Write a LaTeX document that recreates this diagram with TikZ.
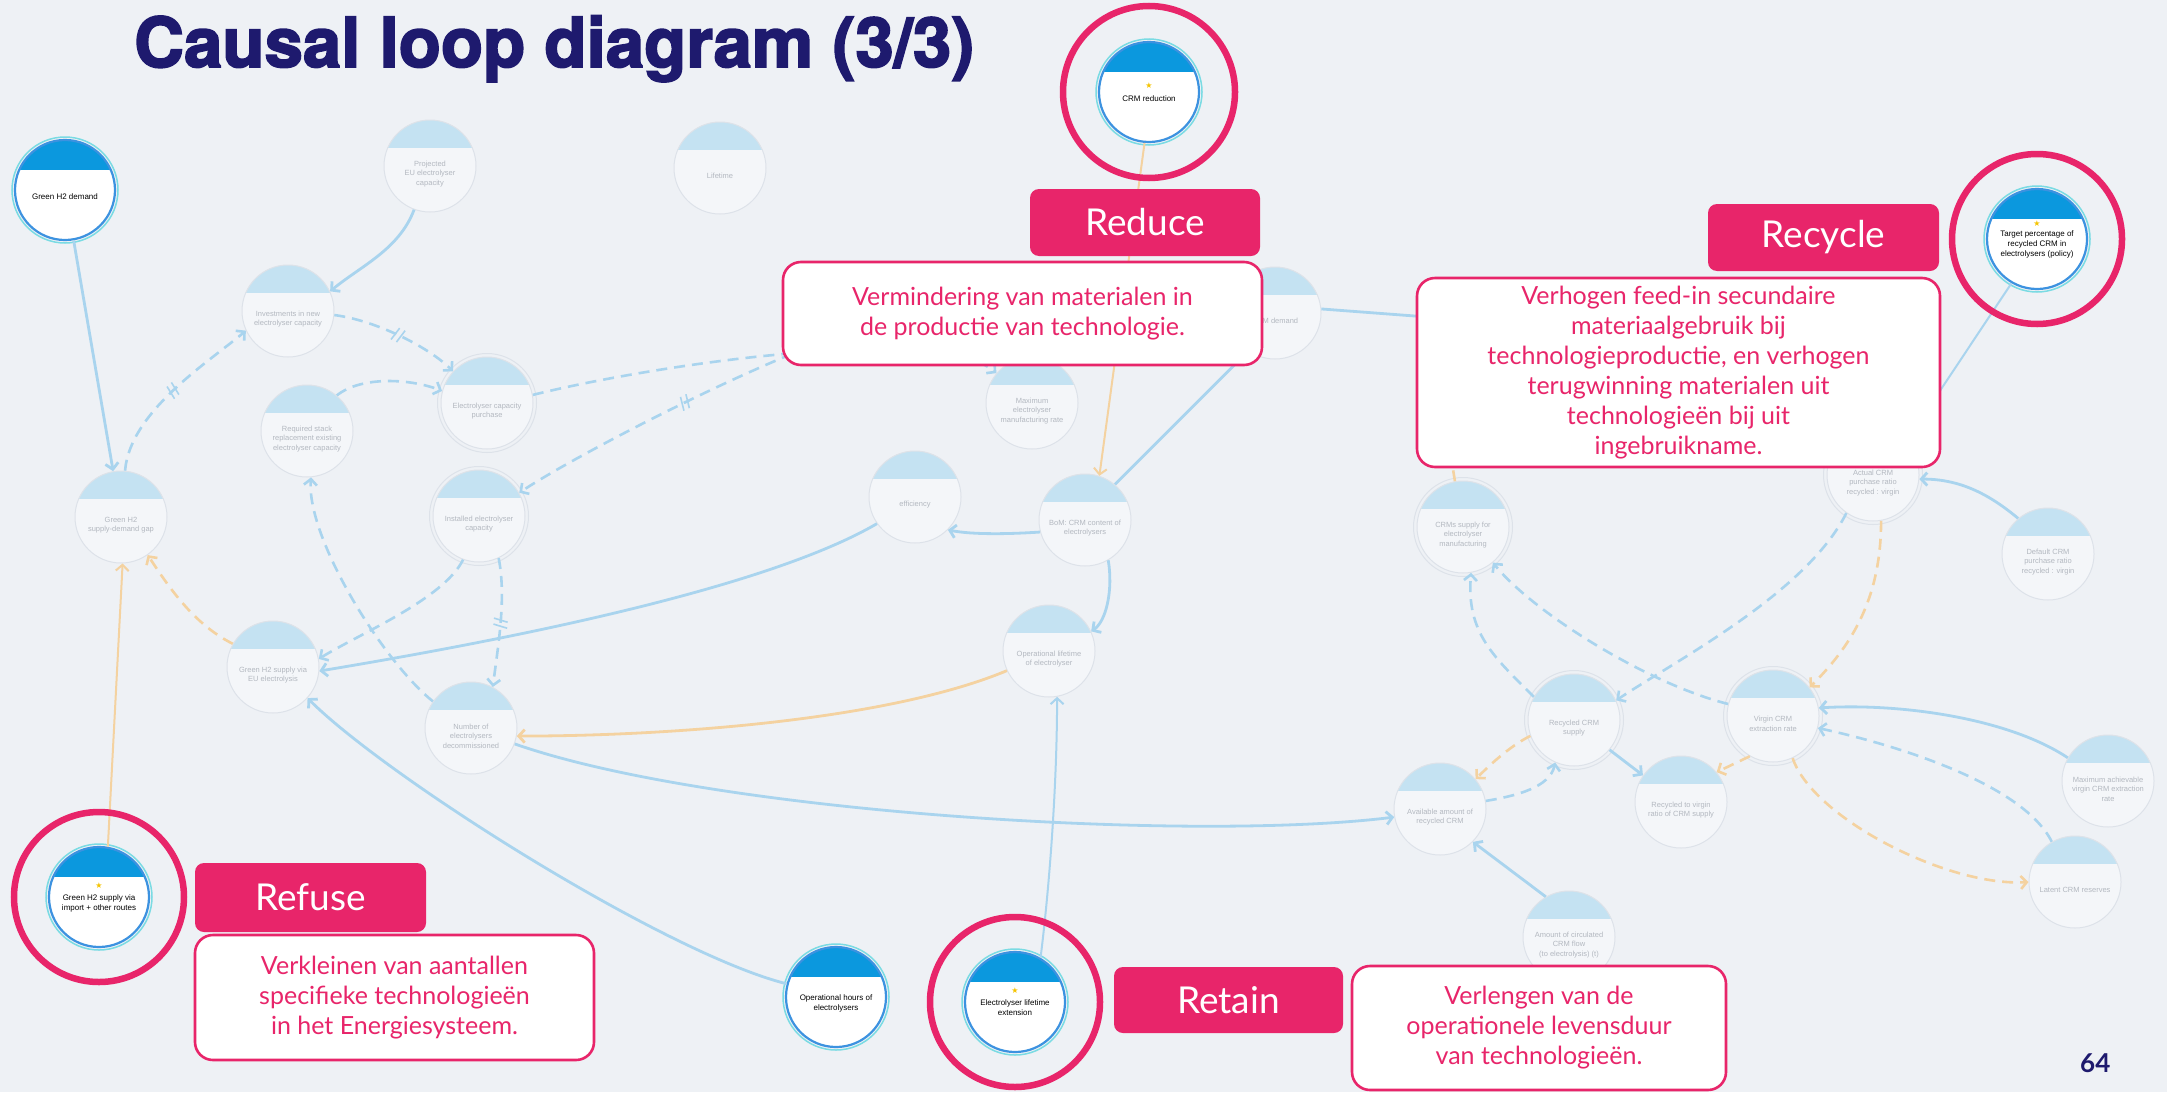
\documentclass[tikz,border=0pt]{standalone}
\usepackage{fontspec}
\usetikzlibrary{arrows.meta,decorations.markings}
\setmainfont{Lato}
\newfontfamily\titlefont[BoldFeatures={FakeBold=2.5}]{TeX Gyre Heros}
\newfontfamily\smallfont{Liberation Sans}
\newfontfamily\symfont{DejaVu Sans}
\definecolor{bg}{HTML}{EEF1F5}
\definecolor{navy}{HTML}{1E1A6E}
\definecolor{pinkc}{HTML}{E8256A}
\definecolor{hcap}{HTML}{0B98DE}
\definecolor{hborder}{HTML}{3C92E0}
\definecolor{tealc}{HTML}{7ADBE3}
\definecolor{fcap}{HTML}{C4E2F2}
\definecolor{fbody}{HTML}{F4F6F9}
\definecolor{fborder}{HTML}{DDE2E9}
\definecolor{ftextc}{HTML}{B3B8C0}
\definecolor{lblue}{HTML}{A9D4EE}
\definecolor{lorange}{HTML}{F4D2A0}
\definecolor{stary}{HTML}{F5C400}
\tikzset{
  fnode/.style={circle, minimum size=92pt, inner sep=0pt, fill=fbody, draw=fborder, line width=1pt,
    path picture={\fill[fcap] (path picture bounding box.north west) rectangle ([yshift=-28pt]path picture bounding box.north east);}},
  ftext/.style={font=\smallfont\fontsize{7.5}{9.5}\selectfont, text=ftextc, align=center, yshift=-8pt},
  hnode/.style={circle, minimum size=100pt, inner sep=0pt, fill=white, draw=hborder, line width=2.2pt,
    path picture={\fill[hcap] (path picture bounding box.north west) rectangle ([yshift=-30pt]path picture bounding box.north east);}},
  htext/.style={font=\smallfont\fontsize{8}{10}\selectfont, text=black, align=center},
  tealring/.style={draw=tealc, line width=1.5pt},
  stockring/.style={draw=fborder, line width=1pt},
  pinkring/.style={draw=pinkc, line width=6.5pt},
  tip/.style={-{Straight Barb[length=6pt,width=13pt]}},
  fsolid/.style={draw=lblue, line width=2.8pt, tip},
  fthin/.style={draw=lblue, line width=2pt, tip},
  fdash/.style={draw=lblue, line width=2.6pt, dash pattern=on 11pt off 7pt, tip},
  osolid/.style={draw=lorange, line width=2.8pt, tip},
  othin/.style={draw=lorange, line width=2pt, tip},
  odash/.style={draw=lorange, line width=2.6pt, dash pattern=on 11pt off 7pt, tip},
  delay/.style={postaction={decorate, decoration={markings, mark=at position 0.5 with {\draw[solid,-,line width=1.6pt] (-4pt,-7pt) -- (-1pt,7pt) (2pt,-7pt) -- (5pt,7pt);}}}},
  labbox/.style={fill=pinkc, rounded corners=9pt, inner sep=0pt, text=white, font=\fontsize{37}{40}\selectfont},
  callout/.style={fill=white, draw=pinkc, line width=2.6pt, rounded corners=18pt, inner sep=0pt, text=pinkc, align=center, font=\fontsize{25}{30}\selectfont},
}
\newcommand{\hstar}{{\color{stary}\symfont\fontsize{8}{8}\selectfont ★}}
\begin{document}
\begin{tikzpicture}[x=1pt,y=-1pt]
\useasboundingbox (0,0) rectangle (2167,1092);
\fill[bg] (0,0) rectangle (2167,1092);

% faded nodes
\node[fnode, label={[ftext]center:{Projected\\EU electrolyser\\capacity}}] (n1) at (430,166) {};
\node[fnode, label={[ftext]center:{Lifetime}}] (n2) at (720,168) {};
\node[fnode, label={[ftext]center:{Investments in new\\electrolyser capacity}}] (inv) at (288,311) {};
\node[fnode, label={[ftext]center:{Electrolyser capacity\\purchase}}] (pur) at (487,403) {};
\node[fnode, label={[ftext]center:{Required stack\\replacement existing\\electrolyser capacity}}] (req) at (307,431) {};
\node[fnode, label={[ftext]center:{Installed electrolyser\\capacity}}] (inst) at (479,516) {};
\node[fnode, label={[ftext]center:{Green H2\\supply-demand gap}}] (gap) at (121,517) {};
\node[fnode, label={[ftext]center:{Green H2 supply via\\EU electrolysis}}] (supEU) at (273,667) {};
\node[fnode, label={[ftext]center:{Number of\\electrolysers\\decommissioned}}] (numdec) at (471,728) {};
\node[fnode, label={[ftext]center:{efficiency}}] (eff) at (915,497) {};
\node[fnode, label={[ftext]center:{BoM: CRM content of\\electrolysers}}] (bom) at (1085,520) {};
\node[fnode, label={[ftext]center:{Operational lifetime\\of electrolyser}}] (opl) at (1049,651) {};
\node[fnode, label={[ftext]center:{Maximum\\electrolyser\\manufacturing rate}}] (max) at (1032,403) {};
\node[fnode, label={[ftext]center:{CRM demand}}] (cdem) at (1275,313) {};
\node[fnode, label={[ftext]center:{CRMs supply for\\electrolyser\\manufacturing}}] (crmsup) at (1463,527) {};
\node[fnode, label={[ftext]center:{Actual CRM\\purchase ratio\\recycled : virgin}}] (actual) at (1873,475) {};
\node[fnode, label={[ftext]center:{Default CRM\\purchase ratio\\recycled : virgin}}] (default) at (2048,554) {};
\node[fnode, label={[ftext]center:{Recycled CRM\\supply}}] (recsup) at (1574,720) {};
\node[fnode, label={[ftext]center:{Virgin CRM\\extraction rate}}] (virgin) at (1773,716) {};
\node[fnode, label={[ftext]center:{Available amount of\\recycled CRM}}] (avail) at (1440,809) {};
\node[fnode, label={[ftext]center:{Recycled to virgin\\ratio of CRM supply}}] (ratio) at (1681,802) {};
\node[fnode, label={[ftext]center:{Maximum achievable\\virgin CRM extraction\\rate}}] (maxach) at (2108,781) {};
\node[fnode, label={[ftext]center:{Latent CRM reserves}}] (latent) at (2075,882) {};
\node[fnode, label={[ftext]center:{Amount of circulated\\CRM flow\\(to electrolysis) (t)}}] (circ) at (1569,937) {};
\foreach \s in {pur,inst,crmsup,actual,recsup,virgin} {\draw[stockring] (\s.center) circle[radius=49.5pt];}

% highlighted nodes
\node[hnode, label={[htext,yshift=-7pt]center:{Green H2 demand}}] (gdem) at (65,190) {};
\node[hnode, label={[htext]center:{\hstar\\[3pt]CRM reduction}}] (crmred) at (1149,92) {};
\node[hnode, label={[htext]center:{\hstar\\Target percentage of\\recycled CRM in\\electrolysers (policy)}}] (target) at (2037,239) {};
\node[hnode, label={[htext]center:{\hstar\\[2pt]Green H2 supply via\\import + other routes}}] (import) at (99,897) {};
\node[hnode, label={[htext,yshift=-6pt]center:{Operational hours of\\electrolysers}}] (ophrs) at (836,997) {};
\node[hnode, label={[htext]center:{\hstar\\[2pt]Electrolyser lifetime\\extension}}] (lifeext) at (1015,1002) {};
\foreach \s in {gdem,crmred,target,import,ophrs,lifeext} {\draw[tealring] (\s.center) circle[radius=53pt];}

% hidden ends
\coordinate (hA) at (860,330);
\coordinate (hB) at (1600,330);
\coordinate (hC) at (1445,420);

% connectors
\draw[fsolid] (gdem) -- (gap);
\draw[fdash, delay] (gap.85) .. controls +(5,-60) and +(-35,30) .. (inv.205);
\draw[fsolid] (n1.250) .. controls +(-15,40) and +(30,-25) .. (inv.25);
\draw[fdash, delay] (inv.355) .. controls +(40,5) and +(-25,-25) .. (pur.137);
\draw[fdash] (req.50) .. controls +(25,-20) and +(-30,-12) .. (pur.165);
\draw[fdash] (pur.10) .. controls +(120,-30) and +(-60,-50) .. (max.140);
\draw[fdash, delay] (hA) .. controls +(-80,20) and +(60,-40) .. (inst.30);
\draw[fdash] (inst.250) .. controls +(-20,40) and +(40,-25) .. (supEU.10);
\draw[fdash, delay] (inst.295) .. controls +(8,40) and +(5,-40) .. (numdec.62);
\draw[fdash] (numdec.145) .. controls +(-50,-40) and +(-5,60) .. (req.275);
\draw[fsolid] (eff.215) .. controls +(-120,70) and +(150,-25) .. (supEU.355);
\draw[fsolid] (bom.195) .. controls +(-30,2) and +(25,5) .. (eff.315);
\draw[fsolid] (bom.300) .. controls +(5,30) and +(15,-10) .. (opl.25);
\draw[osolid] (opl.205) .. controls +(-120,50) and +(150,0) .. (numdec.350);
\draw[fsolid] (numdec.340) .. controls +(200,70) and +(-200,25) .. (avail.190);
\draw[fsolid] (ophrs.165) .. controls +(-120,-30) and +(80,80) .. (supEU.318);
\draw[fthin] (lifeext.60) .. controls +(10,-80) and +(0,80) .. (opl.280);
\draw[othin] (crmred.265) -- (bom.72);
\draw[othin] (import.80) -- (gap.272);
\draw[odash] (supEU.150) .. controls +(-40,-20) and +(20,30) .. (gap.305);
\draw[fsolid] (cdem.5) -- (hB);
\draw[fsolid] (bom.50) -- (cdem.235);
\draw[fthin] (target.240) -- (actual.45);
\draw[fsolid] (default.130) .. controls +(-30,-25) and +(40,0) .. (actual.355);
\draw[fdash] (actual.235) .. controls +(-40,80) and +(60,-40) .. (recsup.25);
\draw[odash] (actual.280) .. controls +(0,80) and +(40,-40) .. (virgin.38);
\draw[fdash] (recsup.150) .. controls +(-40,-40) and +(-5,60) .. (crmsup.280);
\draw[fdash] (virgin.165) .. controls +(-80,-20) and +(40,50) .. (crmsup.310);
\draw[odash] (recsup.200) .. controls +(-20,10) and +(15,-15) .. (avail.40);
\draw[fdash] (avail.10) .. controls +(30,-5) and +(-5,25) .. (recsup.246);
\draw[fsolid] (recsup.320) -- (ratio.145);
\draw[odash] (virgin.240) -- (ratio.40);
\draw[fsolid] (maxach.150) .. controls +(-60,-40) and +(80,-5) .. (virgin.10);
\draw[fdash] (latent.120) .. controls +(-30,-60) and +(70,15) .. (virgin.345);
\draw[odash] (virgin.295) .. controls +(20,60) and +(-80,5) .. (latent.180);
\draw[fsolid] (circ.120) -- (avail.315);
\draw[odash, -] (crmsup.100) -- (hC);

% pink rings
\foreach \s/\r in {crmred/86,target/85,import/85,lifeext/85} {\draw[pinkring] (\s.center) circle[radius=\r pt];}

% labels and callouts
\node[labbox, minimum width=231pt, minimum height=69pt] (reflab) at (310.5,897.5) {Refuse};
\node[callout, minimum width=399pt, minimum height=125pt] (refbox) at (394.5,997.5) {Verkleinen van aantallen\\specifieke technologieën\\in het Energiesysteem.};
\node[labbox, minimum width=230pt, minimum height=67pt] (redlab) at (1145,222.5) {Reduce};
\node[callout, minimum width=479pt, minimum height=103pt] (redbox) at (1022.5,313.5) {Vermindering van materialen in\\de productie van technologie.};
\node[labbox, minimum width=231pt, minimum height=67pt] (reclab) at (1823.5,237.5) {Recycle};
\node[callout, minimum width=523pt, minimum height=189pt] (recbox) at (1678.5,372.5) {Verhogen feed-in secundaire\\materiaalgebruik bij\\technologieproductie, en verhogen\\terugwinning materialen uit\\technologieën bij uit\\ingebruikname.};
\node[labbox, minimum width=229pt, minimum height=66pt] (retlab) at (1228.5,1000) {Retain};
\node[callout, minimum width=374pt, minimum height=124pt] (retbox) at (1539,1028) {Verlengen van de\\operationele levensduur\\van technologieën.};

% title and page number
\node[anchor=base west, inner sep=0pt, text=navy, font=\titlefont\bfseries\fontsize{69}{80}\selectfont] (title) at (134,67) {Causal loop diagram (3/3)};
\node[anchor=base west, inner sep=0pt, text=navy, font=\bfseries\fontsize{26}{30}\selectfont] (pnum) at (2080,1072) {64};
\end{tikzpicture}
\end{document}
